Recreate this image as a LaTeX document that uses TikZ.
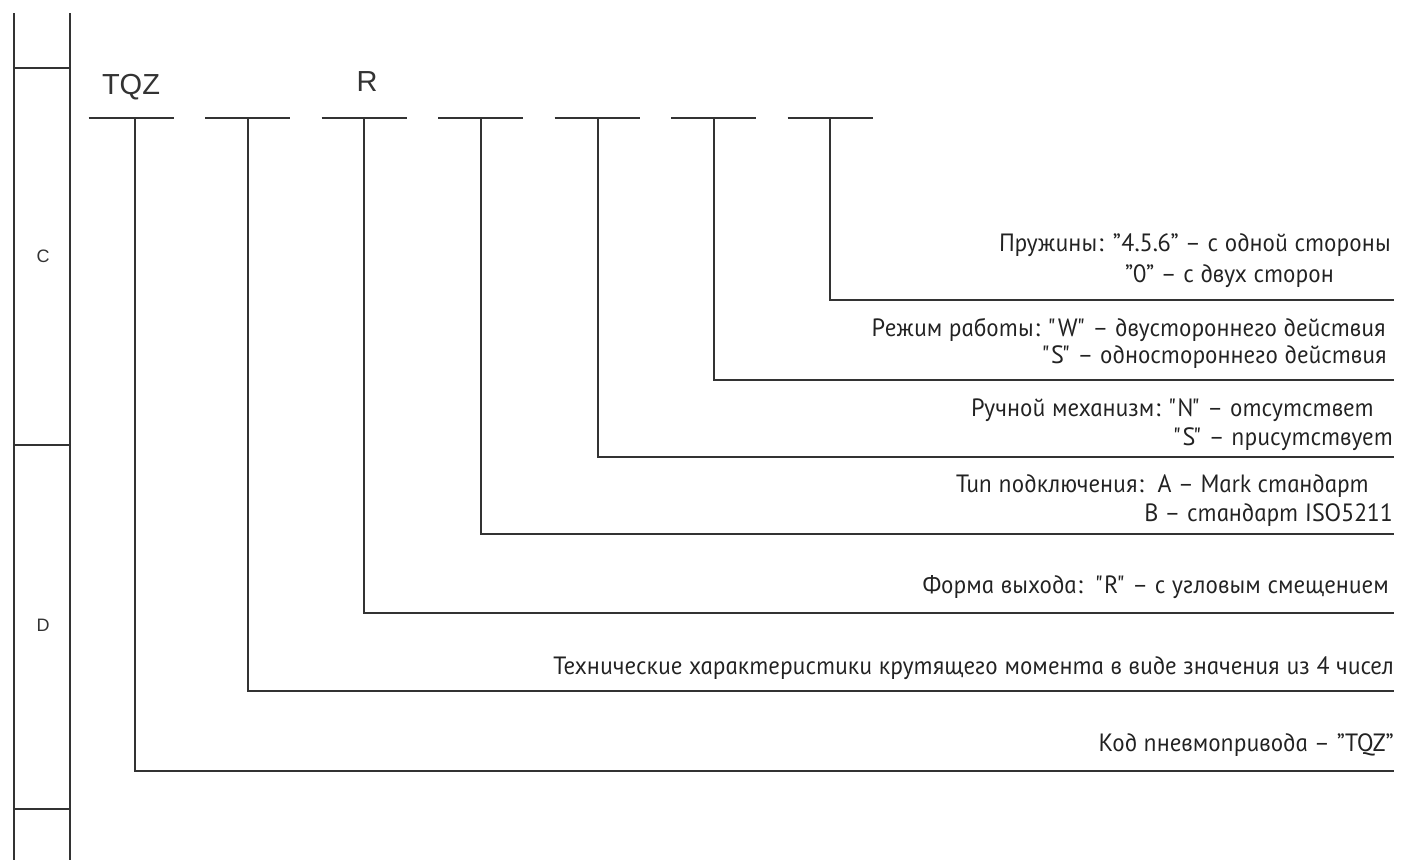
\documentclass[tikz,border=0pt]{standalone}
\usepackage{fontspec}
\setmainfont{Liberation Sans}
\newfontfamily\gost[FakeSlant=-0.2]{PT Sans Italic}
\definecolor{ln}{HTML}{333333}
\definecolor{tx}{HTML}{222222}
\begin{document}
\begin{tikzpicture}[x=1pt,y=-1pt,
  frame/.style={draw=ln,line width=1.6pt},
  dashseg/.style={draw=ln,line width=2pt},
  lead/.style={draw=ln,line width=1.8pt},
  desc/.style={anchor=east,inner sep=0pt,text=tx,font=\gost\fontsize{25}{28}\selectfont},
  code/.style={inner sep=0pt,text=ln,font=\fontsize{29}{32}\selectfont},
  zone/.style={inner sep=0pt,text=ln,font=\fontsize{18}{20}\selectfont}]
\useasboundingbox (0,0) rectangle (1405,860);
% frame
\draw[frame] (14,13) -- (14,860);
\draw[frame] (70,13) -- (70,860);
\draw[frame] (14,68) -- (70,68);
\draw[frame] (14,445) -- (70,445);
\draw[frame] (14,809) -- (70,809);
\node[zone] (zc) at (43,256) {C};
\node[zone] (zd) at (43,625) {D};
% codes
\node[code] (tqz) at (131,87) {TQZ};
\node[code] (r) at (367,82) {R};
% dashes
\foreach \i/\x in {1/131,2/247.5,3/364,4/480.5,5/597,6/713.5,7/830}{
  \draw[dashseg] (\x-42.5,117.5) -- (\x+42.5,117.5);
  \coordinate (d\i) at (\x,117.5);
}
% leaders
\foreach \i/\x/\y in {1/135/771,2/248/691,3/364/613,4/481/534,5/598/457,6/714/380,7/830/300}{
  \coordinate (top\i) at (\x,117.5);
  \coordinate (c\i) at (\x,\y);
  \coordinate (e\i) at (1394,\y);
  \draw[lead] (top\i) -- (c\i) -- (e\i);
}
% descriptions
\node[desc] (t7a) at (1392,245) {Пружины: ”4.5.6” – с одной стороны};
\node[desc] (t7b) at (1335,276) {”0” – с двух сторон};
\node[desc] (t6a) at (1387,330) {Режим работы: "W" – двустороннего действия};
\node[desc] (t6b) at (1388,357) {"S" – одностороннего действия};
\node[desc] (t5a) at (1375,410) {Ручной механизм: "N" – отсутствет};
\node[desc] (t5b) at (1394,439) {"S" – присутствует};
\node[desc] (t4a) at (1370,486) {Тип подключения:\ \ A – Mark стандарт};
\node[desc] (t4b) at (1394,515) {B – стандарт ISO5211};
\node[desc] (t3) at (1390,587) {Форма выхода:\ \ "R" – с угловым смещением};
\node[desc] (t2) at (1395,668) {Технические характеристики крутящего момента в виде значения из 4 чисел};
\node[desc] (t1) at (1395,745) {Код пневмопривода – ”TQZ”};
\end{tikzpicture}
\end{document}
